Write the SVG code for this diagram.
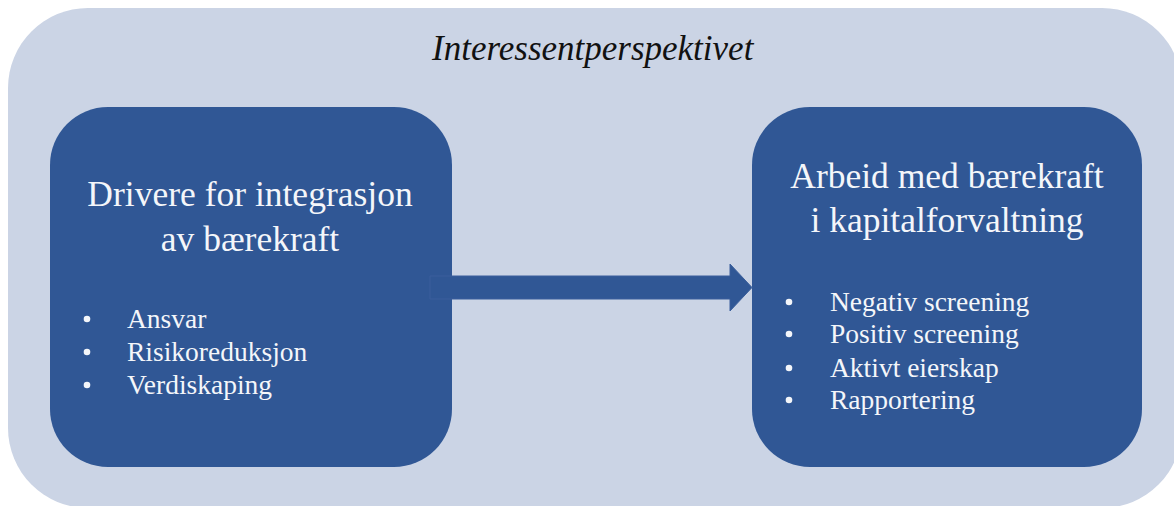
<svg xmlns="http://www.w3.org/2000/svg" width="1174" height="506" viewBox="0 0 1174 506">
  <style>
    .frame { fill: #cbd4e5; }
    .box { fill: #305795; }
    .title { font-family: "Liberation Serif", "Times New Roman", serif; font-style: italic; font-size: 35px; fill: #111; }
    .head { font-family: "Liberation Serif", "Times New Roman", serif; font-size: 35.5px; fill: #f4f6fa; text-anchor: middle; }
    .item { font-family: "Liberation Serif", "Times New Roman", serif; font-size: 27.5px; fill: #f4f6fa; }
    .dot { fill: #f4f6fa; }
    .arrow { fill: #305795; stroke: #3a5f9c; stroke-width: 1; }
  </style>
  <rect width="1174" height="506" fill="#ffffff"/>

  <!-- outer perspective frame -->
  <g id="perspective">
    <rect class="frame" x="8" y="8" width="1174" height="500" rx="80" ry="80"/>
    <text class="title" x="432" y="60">Interessentperspektivet</text>
  </g>

  <!-- drivers node -->
  <g id="drivers">
    <rect class="box" x="50" y="107" width="402" height="360" rx="58" ry="58"/>
    <text class="head" x="250" y="206">Drivere for integrasjon</text>
    <text class="head" x="250" y="251">av bærekraft</text>
    <circle class="dot" cx="87" cy="319" r="3.3"/>
    <circle class="dot" cx="87" cy="352" r="3.3"/>
    <circle class="dot" cx="87" cy="385" r="3.3"/>
    <text class="item" x="127" y="328">Ansvar</text>
    <text class="item" x="127" y="361">Risikoreduksjon</text>
    <text class="item" x="127" y="394">Verdiskaping</text>
  </g>

  <!-- practice node -->
  <g id="practice">
    <rect class="box" x="752" y="107" width="390" height="360" rx="58" ry="58"/>
    <text class="head" x="947" y="188">Arbeid med bærekraft</text>
    <text class="head" x="947" y="232">i kapitalforvaltning</text>
    <circle class="dot" cx="789" cy="302" r="3.3"/>
    <circle class="dot" cx="789" cy="334" r="3.3"/>
    <circle class="dot" cx="789" cy="368" r="3.3"/>
    <circle class="dot" cx="789" cy="400" r="3.3"/>
    <text class="item" x="830" y="311">Negativ screening</text>
    <text class="item" x="830" y="343">Positiv screening</text>
    <text class="item" x="830" y="377">Aktivt eierskap</text>
    <text class="item" x="830" y="409">Rapportering</text>
  </g>

  <!-- connector: block arrow from drivers to practice -->
  <g id="connectors">
    <path class="arrow" d="M430,276 H730 V264 L752,287.5 L730,311 V299 H430 Z"/>
  </g>
</svg>
